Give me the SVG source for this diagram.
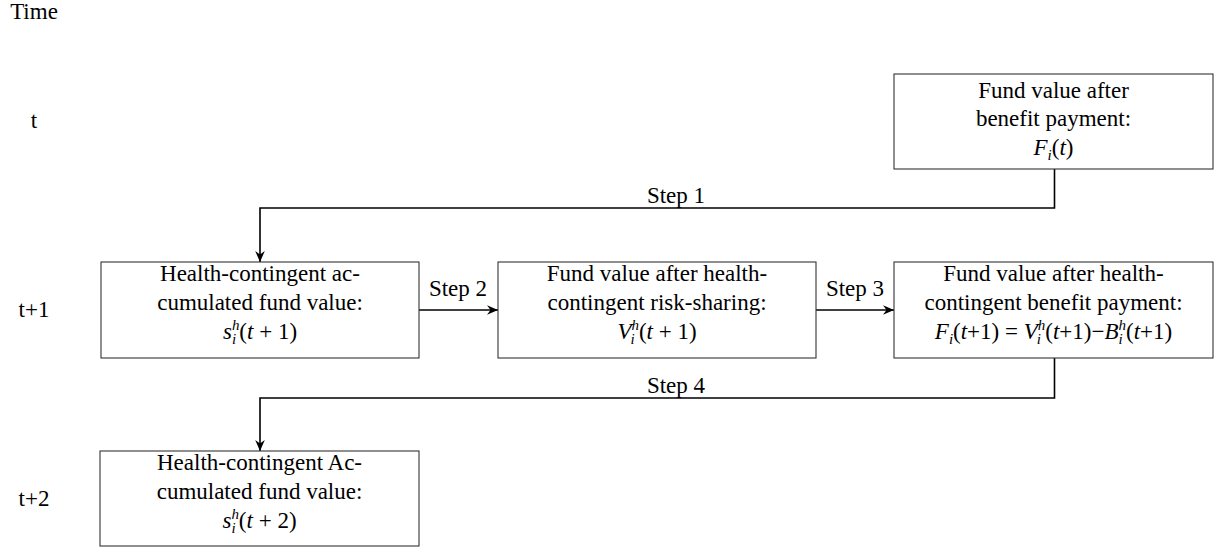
<svg xmlns="http://www.w3.org/2000/svg" width="1219" height="551" viewBox="0 0 1219 551">
<style>
text{font-family:'Liberation Serif','Times New Roman',Times,'Noto Serif','DejaVu Serif','FreeSerif','Nimbus Roman',serif}
.t{font-size:23px;fill:#000;text-anchor:middle}
.m{font-style:italic}
.s{font-size:15px;font-style:italic}
.box{fill:#fff;stroke:#333;stroke-width:1.1}
.conn{fill:none;stroke:#000;stroke-width:1.6}
</style>
<defs>
<marker id="arr" markerUnits="userSpaceOnUse" markerWidth="14" markerHeight="12" refX="0" refY="0" orient="auto" viewBox="-12 -6 14 12" overflow="visible">
<path d="M0,0 L-11,-4.8 L-7.5,0 L-11,4.8 Z" fill="#000"/>
</marker>
</defs>
<rect width="1219" height="551" fill="#fff"/>
<g id="time-labels">
<text class="t" x="34" y="19">Time</text>
<text class="t" x="34" y="128">t</text>
<text class="t" x="34" y="317">t+1</text>
<text class="t" x="34" y="506">t+2</text>
</g>
<g id="connectors">
<path class="conn" d="M1054.5,169 V208 H260 V262" marker-end="url(#arr)"/>
<text class="t" x="676" y="203">Step 1</text>
<path class="conn" d="M419,310 H498" marker-end="url(#arr)"/>
<text class="t" x="458" y="296">Step 2</text>
<path class="conn" d="M816,310 H894" marker-end="url(#arr)"/>
<text class="t" x="855" y="296">Step 3</text>
<path class="conn" d="M1054.5,358 V398 H260 V451" marker-end="url(#arr)"/>
<text class="t" x="676" y="393">Step 4</text>
</g>
<g id="node-fund-t">
<rect class="box" x="894" y="74" width="319" height="95"/>
<text class="t" x="1053.5" y="98">Fund value after</text>
<text class="t" x="1053.5" y="126">benefit payment:</text>
<text class="t" x="1053.5" y="155"><tspan class="m">F</tspan><tspan class="s" dy="5">i</tspan><tspan dy="-5">(</tspan><tspan class="m">t</tspan>)</text>
</g>
<g id="node-accum-t1">
<rect class="box" x="101" y="262" width="318" height="96"/>
<text class="t" x="260" y="281">Health-contingent ac-</text>
<text class="t" x="260" y="310">cumulated fund value:</text>
<text class="t" x="260" y="339"><tspan class="m">s</tspan><tspan class="s" dy="-9">h</tspan><tspan class="s" dx="-7.5" dy="14">i</tspan><tspan dx="3.3" dy="-5">(</tspan><tspan class="m">t</tspan> + 1)</text>
</g>
<g id="node-risk-sharing">
<rect class="box" x="498" y="262" width="318" height="96"/>
<text class="t" x="657" y="281">Fund value after health-</text>
<text class="t" x="657" y="310">contingent risk-sharing:</text>
<text class="t" x="657" y="339"><tspan class="m">V</tspan><tspan class="s" dy="-9">h</tspan><tspan class="s" dx="-8.5" dy="14">i</tspan><tspan dx="4.3" dy="-5">(</tspan><tspan class="m">t</tspan> + 1)</text>
</g>
<g id="node-benefit-t1">
<rect class="box" x="894" y="262" width="319" height="96"/>
<text class="t" x="1053.5" y="281">Fund value after health-</text>
<text class="t" x="1053.5" y="310">contingent benefit payment:</text>
<text class="t" x="1053.5" y="339"><tspan class="m">F</tspan><tspan class="s" dy="5">i</tspan><tspan dy="-5">(</tspan><tspan class="m">t</tspan>+1) = <tspan class="m">V</tspan><tspan class="s" dy="-9">h</tspan><tspan class="s" dx="-8.5" dy="14">i</tspan><tspan dx="4.3" dy="-5">(</tspan><tspan class="m">t</tspan>+1)−<tspan class="m">B</tspan><tspan class="s" dy="-9">h</tspan><tspan class="s" dx="-7.5" dy="14">i</tspan><tspan dx="3.3" dy="-5">(</tspan><tspan class="m">t</tspan>+1)</text>
</g>
<g id="node-accum-t2">
<rect class="box" x="100" y="451" width="319" height="95"/>
<text class="t" x="259.5" y="470">Health-contingent Ac-</text>
<text class="t" x="259.5" y="499">cumulated fund value:</text>
<text class="t" x="259.5" y="528"><tspan class="m">s</tspan><tspan class="s" dy="-9">h</tspan><tspan class="s" dx="-7.5" dy="14">i</tspan><tspan dx="3.3" dy="-5">(</tspan><tspan class="m">t</tspan> + 2)</text>
</g>
</svg>
